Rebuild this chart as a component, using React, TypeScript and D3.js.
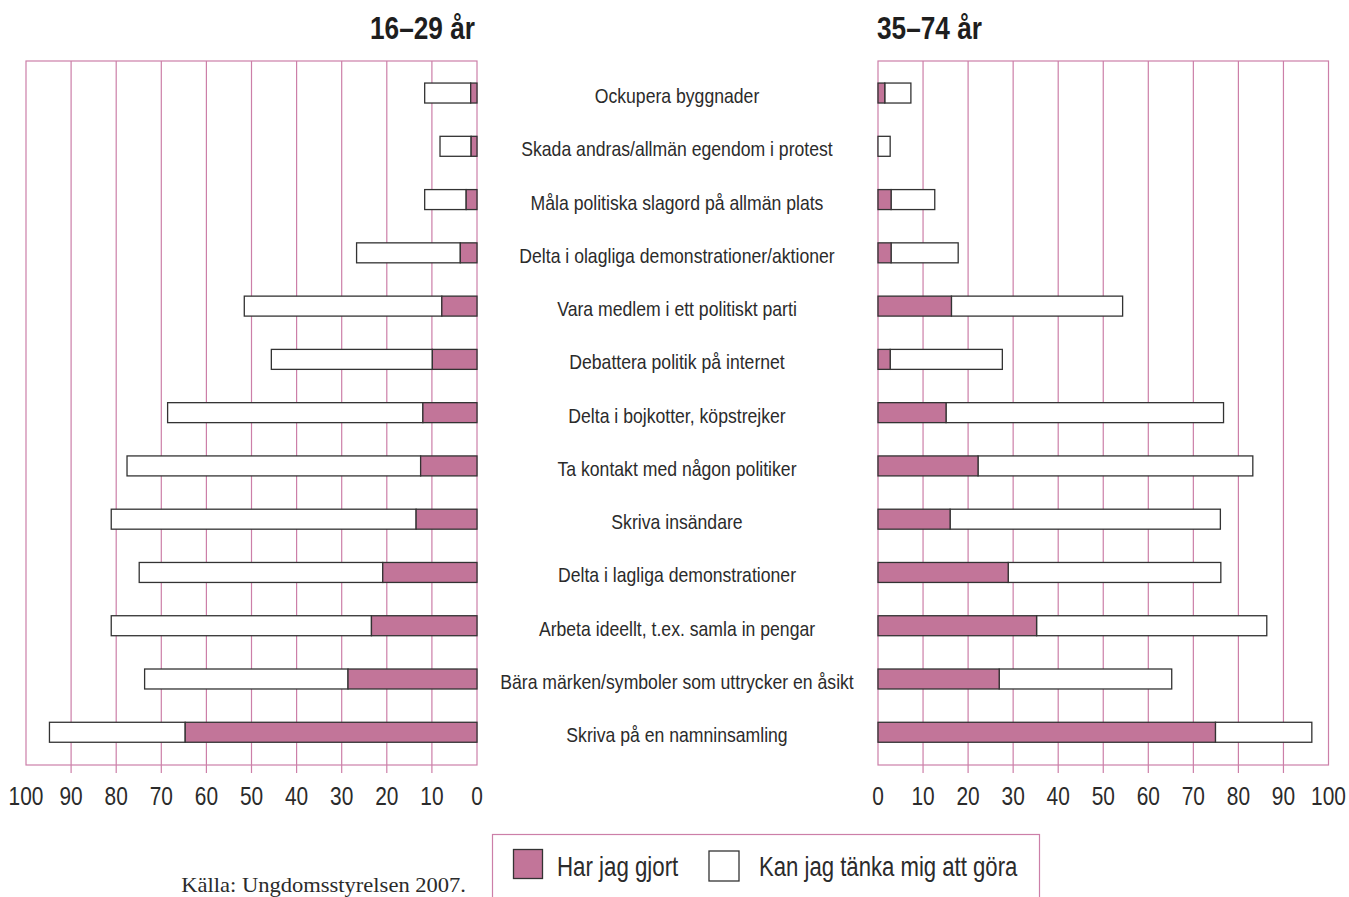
import React from "react";
import * as d3 from "d3";

const categories = [
  "Ockupera byggnader",
  "Skada andras/allmän egendom i protest",
  "Måla politiska slagord på allmän plats",
  "Delta i olagliga demonstrationer/aktioner",
  "Vara medlem i ett politiskt parti",
  "Debattera politik på internet",
  "Delta i bojkotter, köpstrejker",
  "Ta kontakt med någon politiker",
  "Skriva insändare",
  "Delta i lagliga demonstrationer",
  "Arbeta ideellt, t.ex. samla in pengar",
  "Bära märken/symboler som uttrycker en åsikt",
  "Skriva på en namninsamling",
];

// 16–29 år
const youngDone = [1.4, 1.3, 2.4, 3.7, 7.8, 9.9, 12.0, 12.5, 13.5, 20.9, 23.4, 28.6, 64.7];
const youngCould = [10.2, 6.9, 9.2, 23.0, 43.8, 35.7, 56.6, 65.1, 67.6, 54.0, 57.7, 45.1, 30.1];

// 35–74 år
const olderDone = [1.5, 0, 2.9, 2.9, 16.3, 2.7, 15.1, 22.2, 16.0, 28.9, 35.2, 26.9, 74.9];
const olderCould = [5.8, 2.7, 9.7, 14.9, 38.0, 24.9, 61.6, 61.0, 60.0, 47.2, 51.1, 38.3, 21.4];

const ticks = [0, 10, 20, 30, 40, 50, 60, 70, 80, 90, 100];
const panelTitles = ["16–29 år", "35–74 år"];
const legendLabels = ["Har jag gjort", "Kan jag tänka mig att göra"];
const sourceText = "Källa: Ungdomsstyrelsen 2007.";

const W = 1349;
const H = 897;
const PINK = "#c27599";
const GRID = "#cc7fa8";
const TEXT = "#2b2b2b";
const SANS = "'Liberation Sans', Arial, sans-serif";
const SERIF = "'Liberation Serif', 'DejaVu Serif', serif";
const NARROW = 0.82;

const TOP = 61;
const BOTTOM = 765;

type TProps = {
  x: number;
  y: number;
  sx?: number;
  anchor?: "start" | "middle" | "end";
  size: number;
  family?: string;
  weight?: string;
  fill?: string;
  children: React.ReactNode;
};

function T({ x, y, sx = NARROW, anchor = "start", size, family = SANS, weight = "normal", fill = TEXT, children }: TProps) {
  return (
    <text
      transform={`translate(${x},${y}) scale(${sx},1)`}
      textAnchor={anchor}
      fontFamily={family}
      fontSize={size}
      fontWeight={weight}
      fill={fill}
    >
      {children}
    </text>
  );
}

export default function App() {
  const y = d3
    .scaleBand<string>()
    .domain(categories)
    .range([66.4, 758.9])
    .paddingInner(0.625)
    .paddingOuter(0.3125);

  const xLeft = d3.scaleLinear().domain([0, 100]).range([477, 26]);
  const xRight = d3.scaleLinear().domain([0, 100]).range([878, 1328.5]);

  const panels = [
    { x: xLeft, done: youngDone, could: youngCould, title: panelTitles[0], anchor: "end" as const, tx: 475 },
    { x: xRight, done: olderDone, could: olderCould, title: panelTitles[1], anchor: "start" as const, tx: 877 },
  ];

  return (
    <svg width={W} height={H} style={{ position: "absolute", left: 0, top: 0, background: "#fff" }}>
      {panels.map((p, pi) => {
        const x = p.x;
        const x0 = Math.min(x(0), x(100));
        const x1 = Math.max(x(0), x(100));
        return (
          <g key={pi}>
            <T x={p.tx} y={39} anchor={p.anchor} size={32} weight="bold" fill="#1e1e1e">
              {p.title}
            </T>
            {ticks.slice(1, -1).map((t) => (
              <line key={t} x1={x(t)} x2={x(t)} y1={TOP} y2={773} stroke={GRID} strokeWidth={1.2} />
            ))}
            <rect x={x0} y={TOP} width={x1 - x0} height={BOTTOM - TOP} fill="none" stroke={GRID} strokeWidth={1.2} />
            {categories.map((c, i) => {
              const by = y(c)!;
              const bh = y.bandwidth();
              const d = p.done[i];
              const tot = d + p.could[i];
              const ax = Math.min(x(0), x(d));
              const aw = Math.abs(x(d) - x(0));
              const bx = Math.min(x(d), x(tot));
              const bw = Math.abs(x(tot) - x(d));
              return (
                <g key={c}>
                  {p.could[i] > 0 && (
                    <rect x={bx} y={by} width={bw} height={bh} fill="#fff" stroke="#333" strokeWidth={1.3} />
                  )}
                  {d > 0 && (
                    <rect x={ax} y={by} width={aw} height={bh} fill={PINK} stroke="#333" strokeWidth={1.3} />
                  )}
                </g>
              );
            })}
            {ticks.map((t) => (
              <T key={t} x={x(t)} y={805} anchor="middle" size={25.5}>
                {t}
              </T>
            ))}
          </g>
        );
      })}
      {categories.map((c) => (
        <T key={c} x={677} y={y(c)! + y.bandwidth() / 2 + 10} anchor="middle" size={20.5} sx={0.86}>
          {c}
        </T>
      ))}
      <rect x={492.5} y={834.5} width={547} height={80} fill="#fff" stroke={GRID} strokeWidth={1.2} />
      <rect x={513.5} y={849.5} width={29} height={29} fill={PINK} stroke="#333" strokeWidth={1.3} />
      <T x={557} y={876} size={27.5} sx={0.81}>
        {legendLabels[0]}
      </T>
      <rect x={709} y={851} width={30} height={30} fill="#fff" stroke="#333" strokeWidth={1.3} />
      <T x={759} y={876} size={27.5} sx={0.805}>
        {legendLabels[1]}
      </T>
      <T x={466} y={892} anchor="end" size={20.5} sx={1.1} family={SERIF}>
        {sourceText}
      </T>
    </svg>
  );
}
